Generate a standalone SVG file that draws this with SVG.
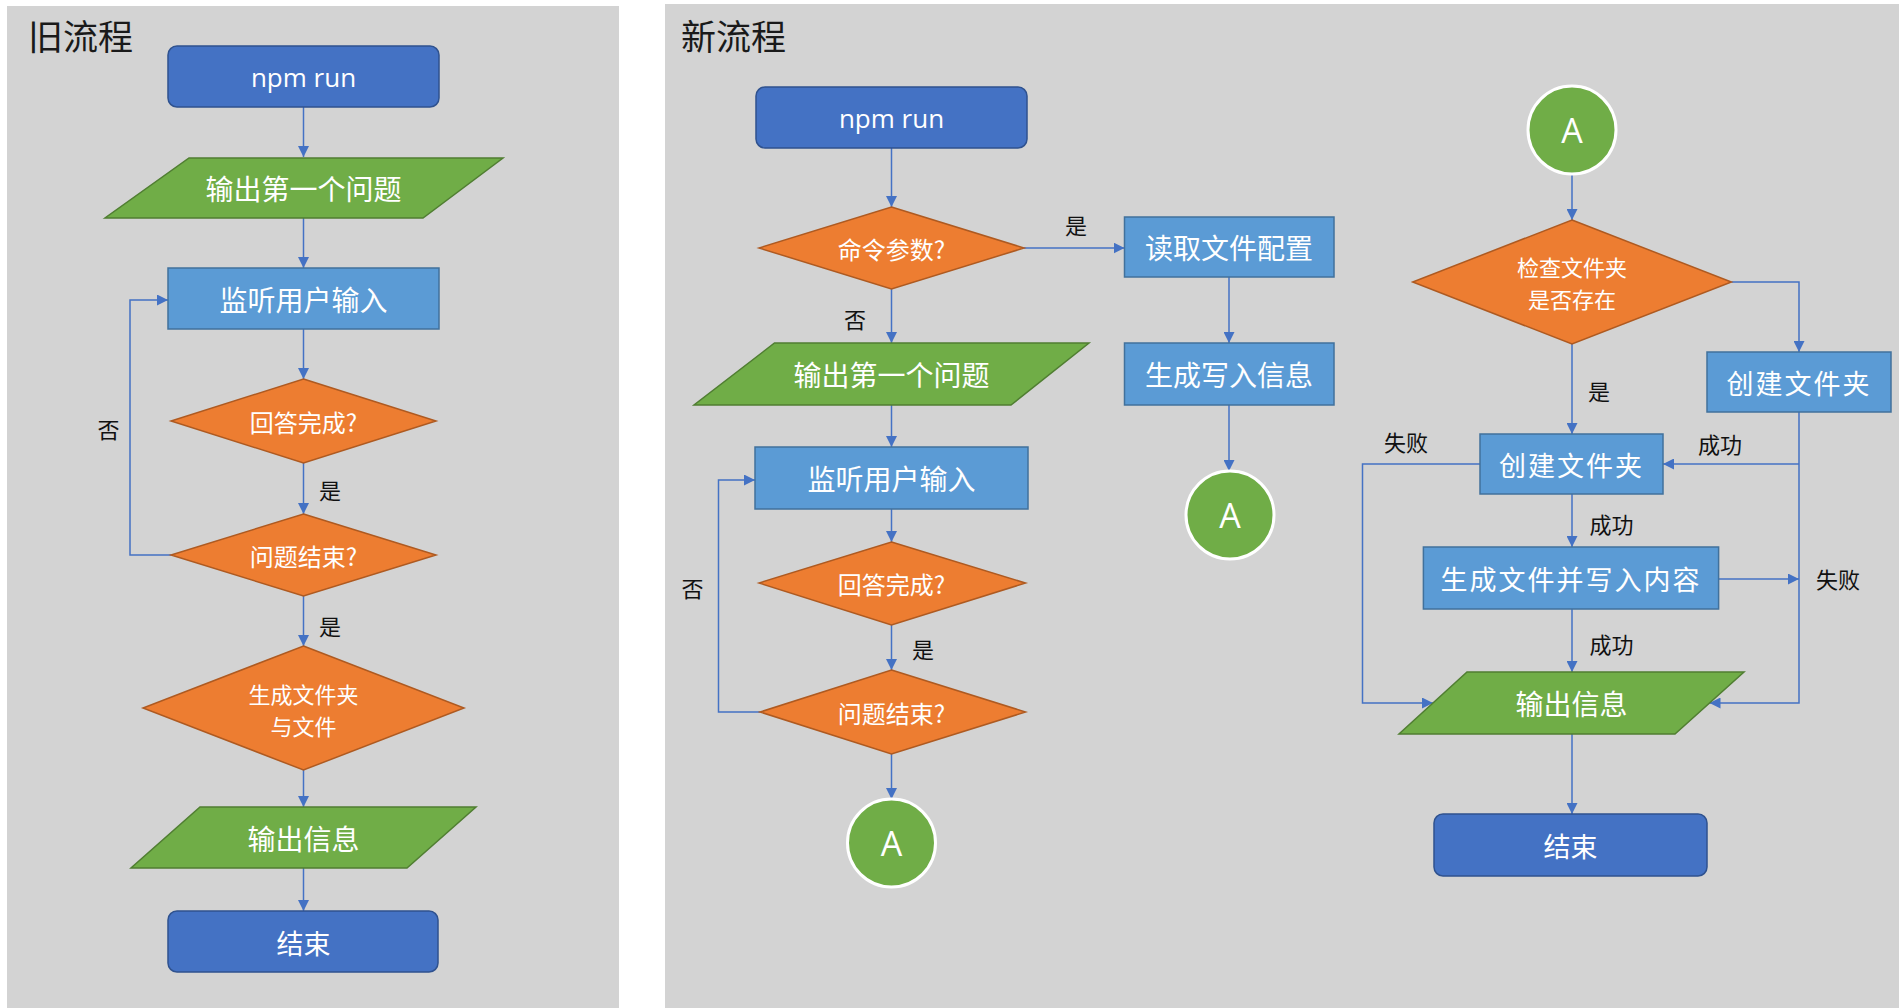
<svg xmlns="http://www.w3.org/2000/svg" width="1899" height="1008" viewBox="0 0 1899 1008">
<defs>
<marker id="ah" viewBox="0 0 10 10" refX="10" refY="5" markerWidth="11" markerHeight="11" markerUnits="userSpaceOnUse" orient="auto"><path d="M0,0 L10,5 L0,10 z" fill="#4472C4"/></marker>
<style>
.panel{fill:#D3D3D3}
.term{fill:#4472C4;stroke:#2F528F;stroke-width:1.5}
.proc{fill:#5B9BD5;stroke:#41719C;stroke-width:1.5}
.dec{fill:#ED7D31;stroke:#AE5A21;stroke-width:1.5}
.io{fill:#70AD47;stroke:#507E32;stroke-width:1.5}
.conn{fill:#70AD47;stroke:#FFFFFF;stroke-width:3}
.wt{fill:#FFFFFF;font-family:"Noto Sans CJK SC","Open Sans",sans-serif;text-anchor:middle;dominant-baseline:central}
.en{font-family:"Open Sans","Noto Sans CJK SC",sans-serif}
.lbl{fill:#111;font-family:"Noto Sans CJK SC",sans-serif;font-size:22px;text-anchor:middle;dominant-baseline:central}
.title{fill:#1a1a1a;font-family:"Noto Sans CJK SC",sans-serif;font-size:35px}
.edge{fill:none;stroke:#4472C4;stroke-width:1.5}
</style>
</defs>
<rect width="1899" height="1008" fill="#FFFFFF"/>
<rect class="panel" x="7" y="6" width="612" height="1002"/>
<rect class="panel" x="665" y="4" width="1234" height="1004"/>
<text class="title" x="28" y="50">旧流程</text>
<text class="title" x="681" y="50">新流程</text>

<g id="connectors">
<path class="edge" marker-end="url(#ah)" d="M303.5,107 V157"/>
<path class="edge" marker-end="url(#ah)" d="M303.5,218 V268"/>
<path class="edge" marker-end="url(#ah)" d="M303.5,329 V379"/>
<path class="edge" marker-end="url(#ah)" d="M303.5,463 V514"/>
<path class="edge" marker-end="url(#ah)" d="M303.5,596 V646"/>
<path class="edge" marker-end="url(#ah)" d="M303.5,770 V807"/>
<path class="edge" marker-end="url(#ah)" d="M303.5,868 V911"/>
<path class="edge" marker-end="url(#ah)" d="M171,555 H130 V300 H168"/>
<path class="edge" marker-end="url(#ah)" d="M891.5,148 V207"/>
<path class="edge" marker-end="url(#ah)" d="M1024,248 H1124.5"/>
<path class="edge" marker-end="url(#ah)" d="M891.5,289 V343"/>
<path class="edge" marker-end="url(#ah)" d="M1229,277 V343"/>
<path class="edge" marker-end="url(#ah)" d="M1229,405 V471"/>
<path class="edge" marker-end="url(#ah)" d="M891.5,405 V447"/>
<path class="edge" marker-end="url(#ah)" d="M891.5,509 V542"/>
<path class="edge" marker-end="url(#ah)" d="M891.5,625 V670"/>
<path class="edge" marker-end="url(#ah)" d="M760,712 H718.5 V480 H755"/>
<path class="edge" marker-end="url(#ah)" d="M891.5,754 V799"/>
<path class="edge" marker-end="url(#ah)" d="M1572,174 V220"/>
<path class="edge" marker-end="url(#ah)" d="M1731.4,282 H1799 V352"/>
<path class="edge" marker-end="url(#ah)" d="M1572,344 V434"/>
<path class="edge" marker-end="url(#ah)" d="M1799,412 V703 H1709.5"/>
<path class="edge" marker-end="url(#ah)" d="M1799,464 H1663"/>
<path class="edge" marker-end="url(#ah)" d="M1480,464 H1362.5 V703 H1433"/>
<path class="edge" marker-end="url(#ah)" d="M1572,494 V547"/>
<path class="edge" marker-end="url(#ah)" d="M1718.6,579 H1799"/>
<path class="edge" marker-end="url(#ah)" d="M1572,609 V672"/>
<path class="edge" marker-end="url(#ah)" d="M1572,734 V814"/>
<text class="lbl" x="108.5" y="428">否</text>
<text class="lbl" x="330" y="489">是</text>
<text class="lbl" x="330" y="625">是</text>
<text class="lbl" x="1076" y="224">是</text>
<text class="lbl" x="855" y="318">否</text>
<text class="lbl" x="692.5" y="587">否</text>
<text class="lbl" x="923" y="648">是</text>
<text class="lbl" x="1599" y="390">是</text>
<text class="lbl" x="1406" y="441" font-size="23">失败</text>
<text class="lbl" x="1720" y="443" font-size="23">成功</text>
<text class="lbl" x="1611.5" y="523" font-size="23">成功</text>
<text class="lbl" x="1838" y="578" font-size="23">失败</text>
<text class="lbl" x="1611.5" y="643" font-size="23">成功</text>
</g>

<!-- Old flow -->
<g id="old-start"><rect class="term" x="168" y="46" width="271" height="61" rx="9"/><text class="wt en" x="303.5" y="77" font-size="26">npm run</text></g>
<g id="old-q1"><polygon class="io" points="189,158 503,158 423,218 105,218"/><text class="wt" x="303.5" y="188" font-size="28">输出第一个问题</text></g>
<g id="old-listen"><rect class="proc" x="168" y="268" width="271" height="61"/><text class="wt" x="303.5" y="299" font-size="28">监听用户输入</text></g>
<g id="old-done"><polygon class="dec" points="303.5,379 436,421 303.5,463 171,421"/><text class="wt" x="303.5" y="421" font-size="24">回答完成?</text></g>
<g id="old-end-q"><polygon class="dec" points="303.5,514 436,555 303.5,596 171,555"/><text class="wt" x="303.5" y="555" font-size="24">问题结束?</text></g>
<g id="old-gen"><polygon class="dec" points="303.5,646 464,708 303.5,770 143,708"/><text class="wt" x="303.5" y="692.5" font-size="22">生成文件夹</text><text class="wt" x="303.5" y="724.5" font-size="22">与文件</text></g>
<g id="old-out"><polygon class="io" points="200,807 476,807 407,868 131,868"/><text class="wt" x="303.5" y="838" font-size="28">输出信息</text></g>
<g id="old-finish"><rect class="term" x="168" y="911" width="270" height="61" rx="9"/><text class="wt" x="303.5" y="942" font-size="27">结束</text></g>

<!-- New flow -->
<g id="new-start"><rect class="term" x="756" y="87" width="271" height="61" rx="9"/><text class="wt en" x="891.5" y="118" font-size="26">npm run</text></g>
<g id="new-args"><polygon class="dec" points="891.5,207 1024,248 891.5,289 759,248"/><text class="wt" x="891.5" y="248" font-size="24">命令参数?</text></g>
<g id="new-read"><rect class="proc" x="1124.5" y="217" width="209.5" height="60"/><text class="wt" x="1229" y="247" font-size="28">读取文件配置</text></g>
<g id="new-q1"><polygon class="io" points="774.5,343 1089,343 1011,405 694,405"/><text class="wt" x="891.5" y="374" font-size="28">输出第一个问题</text></g>
<g id="new-genwrite"><rect class="proc" x="1124.5" y="343" width="209.5" height="62"/><text class="wt" x="1229" y="374" font-size="28">生成写入信息</text></g>
<g id="new-a1"><circle class="conn" cx="1230" cy="515" r="44"/><text class="wt en" x="1230" y="515" font-size="34">A</text></g>
<g id="new-listen"><rect class="proc" x="755" y="447" width="273" height="62"/><text class="wt" x="891.5" y="478" font-size="28">监听用户输入</text></g>
<g id="new-done"><polygon class="dec" points="891.5,542 1025.5,583 891.5,625 759,583"/><text class="wt" x="891.5" y="583" font-size="24">回答完成?</text></g>
<g id="new-end-q"><polygon class="dec" points="891.5,670 1025.5,712 891.5,754 760,712"/><text class="wt" x="891.5" y="712" font-size="24">问题结束?</text></g>
<g id="new-a2"><circle class="conn" cx="891.5" cy="843" r="44"/><text class="wt en" x="891.5" y="843" font-size="34">A</text></g>
<g id="new-a3"><circle class="conn" cx="1572" cy="130" r="44"/><text class="wt en" x="1572" y="130" font-size="34">A</text></g>
<g id="new-check"><polygon class="dec" points="1572,220 1731.4,282 1572,344 1412.7,282"/><text class="wt" x="1572" y="265.5" font-size="22">检查文件夹</text><text class="wt" x="1572" y="297.5" font-size="22">是否存在</text></g>
<g id="new-mkdir2"><rect class="proc" x="1707" y="352" width="184" height="60"/><text class="wt" x="1799" y="382" font-size="27" letter-spacing="2">创建文件夹</text></g>
<g id="new-mkdir"><rect class="proc" x="1480" y="434" width="183" height="60"/><text class="wt" x="1571.5" y="464" font-size="27" letter-spacing="2">创建文件夹</text></g>
<g id="new-write"><rect class="proc" x="1423.4" y="547" width="295.2" height="62"/><text class="wt" x="1571" y="578" font-size="27" letter-spacing="2">生成文件并写入内容</text></g>
<g id="new-out"><polygon class="io" points="1467,672 1744,672 1675,734 1399,734"/><text class="wt" x="1571.5" y="703" font-size="28">输出信息</text></g>
<g id="new-finish"><rect class="term" x="1434" y="814" width="273" height="62" rx="9"/><text class="wt" x="1570.5" y="845" font-size="27">结束</text></g>
</svg>
